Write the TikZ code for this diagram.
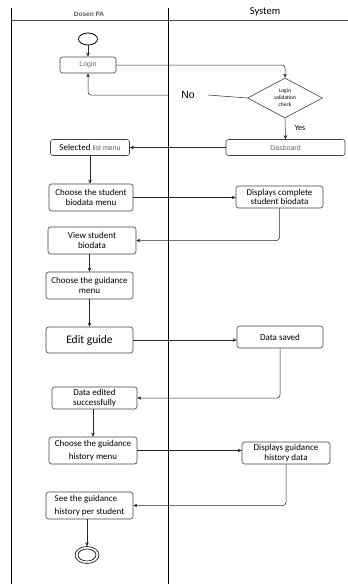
\documentclass[tikz,border=0pt]{standalone}
\usepackage{fontspec}
\setmainfont{Carlito}
\newfontfamily\arialfont{Liberation Sans}
\usetikzlibrary{shapes.geometric,arrows.meta}
\begin{document}
\begin{tikzpicture}[x=1pt,y=-1pt,
  every node/.style={font=\fontsize{9}{9.5}\selectfont},
  act/.style={draw=black!75, line width=0.6pt, rounded corners=2.5pt, inner sep=1pt, align=center},
  greytxt/.style={text=black!60, font=\arialfont\fontsize{7}{8}\selectfont},
  arr/.style={draw=black!85, line width=0.5pt, -{Stealth[length=4pt,width=3.5pt]}, rounded corners=3pt},
  ln/.style={draw=black!85, line width=0.5pt}
]
\useasboundingbox (0,0) rectangle (348,584);
% swimlanes
\draw[line width=0.6pt] (11,8) -- (11,584);
\draw[line width=0.6pt] (168,8) -- (168,584);
\draw[line width=0.6pt, black!70] (11,20) -- (348,20);
\node[text=black!65, font=\arialfont\bfseries\fontsize{6.5}{7}\selectfont] (laneA) at (89,14) {Dosen PA};
\node[font=\fontsize{10.5}{11}\selectfont] (laneB) at (265,12) {System};

% start
\node[draw, ellipse, line width=0.8pt, minimum width=19pt, minimum height=12pt, inner sep=0] (start) at (88,39) {};
\node[act, greytxt, minimum width=56pt, minimum height=16pt] (login) at (88,65) {Login};
\node[diamond, draw=black!75, line width=0.6pt, minimum width=75pt, minimum height=40pt, inner sep=0, align=center,
      font=\fontsize{5.5}{7}\selectfont] (check) at (285,98) {Login\\validation\\check};
\node[inner sep=0, minimum width=40pt, minimum height=10pt, font=\arialfont\fontsize{10.5}{10.5}\selectfont] (no) at (188,95) {No};
\node[act, minimum width=119pt, minimum height=16pt, text=black!60, font=\arialfont\fontsize{7}{8}\selectfont] (dash) at (285.5,147.5) {Dasboard};
\node[act, minimum width=79pt, minimum height=16pt] (sel) at (90,147.5) {Selected {\arialfont\fontsize{7}{8}\selectfont\color{black!65}list menu}};
\node[act, minimum width=84pt, minimum height=27pt] (choose) at (91,197.5) {Choose the student\\biodata menu};
\node[act, minimum width=87pt, minimum height=22pt] (disp) at (279.5,197) {Displays complete\\student biodata};
\node[act, minimum width=88pt, minimum height=27pt] (view) at (92,240.5) {View student\\biodata};
\node[act, minimum width=87pt, minimum height=27pt] (guid) at (89.5,285.5) {Choose the guidance\\menu};
\node[act, minimum width=87pt, minimum height=26pt, font=\fontsize{11.5}{12}\selectfont] (edit) at (89.5,340) {Edit guide};
\node[act, minimum width=86pt, minimum height=22pt] (saved) at (280,337) {Data saved};
\node[act, minimum width=85pt, minimum height=22pt] (edited) at (94.5,398) {Data edited\\successfully};
\node[act, minimum width=88pt, minimum height=27pt, font=\fontsize{9}{13}\selectfont] (hist) at (93,450.5) {Choose the guidance\\history menu};
\node[act, minimum width=88pt, minimum height=22pt] (hdata) at (286,453) {Displays guidance\\history data};
\node[act, minimum width=87pt, minimum height=27pt, align=left, font=\fontsize{9}{13}\selectfont] (see) at (89.5,505.5) {See the guidance\\history per student};
% end
\node[draw, ellipse, line width=0.6pt, minimum width=24pt, minimum height=17pt, inner sep=0] (end) at (87,555) {};
\node[draw, ellipse, line width=0.6pt, minimum width=18pt, minimum height=12pt, inner sep=0] (endin) at (87,555) {};

% connectors
\draw[arr] (start) -- (login);
\draw[arr] (login.east) -| (check.north);
\draw[ln] (check.west) -- (no.east);
\draw[arr] (no.west) -| (login.south);
\draw[arr] (check.south) -- node[right=6pt, pos=0.45, font=\fontsize{8}{8}\selectfont] {Yes} (dash.north);
\draw[arr] (dash.west) -- (sel.east);
\draw[arr] (sel.south) -- (sel.south |- choose.north);
\draw[arr] (choose.east) -- (choose.east -| disp.west);
\draw[arr] (disp.south) |- (view.east);
\draw[arr] (view.south -| guid.north) -- (guid.north);
\draw[arr] (guid.south) -- (edit.north);
\draw[arr] (edit.east) -- (edit.east -| saved.west);
\draw[arr] (saved.south) |- (edited.east);
\draw[arr] (edited.south -| hist.north) -- (hist.north);
\draw[arr] (hist.east) -- (hist.east -| hdata.west);
\draw[arr] (hdata.south) |- (see.east);
\draw[arr] (see.south -| end.north) -- (end.north);
\end{tikzpicture}
\end{document}
